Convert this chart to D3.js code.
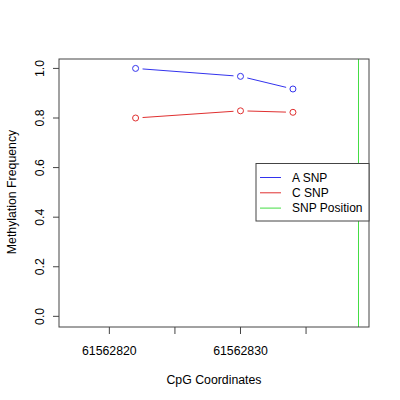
<!DOCTYPE html>
<html><head><meta charset="utf-8">
<script src="https://cdn.jsdelivr.net/npm/d3@7"></script>
<style>body{margin:0;background:#fff}svg{display:block}text{font-family:"Liberation Sans",Arial,sans-serif;fill:#000}</style>
</head><body><div id="chart"></div>
<script>
const coords = [61562822, 61562830, 61562834];
const aSNP = [1.0, 0.968, 0.917];
const cSNP = [0.80, 0.829, 0.823];
const snpPosition = 61562839;
const xTicks = [61562820, 61562825, 61562830, 61562835];
const xTickLabels = ["61562820", "", "61562830", ""];
const yTicks = [0, 0.2, 0.4, 0.6, 0.8, 1.0];
const legendLabels = ["A SNP", "C SNP", "SNP Position"];
const legendColors = ["#3333ee", "#e03030", "#44dd44"];

const W = 400, H = 400;
const L = 59, R = 369, T = 59, B = 327;
const svg = d3.select("#chart").append("svg").attr("width", W).attr("height", H);
const x = d3.scaleLinear().domain([61562816.16, 61562839.8]).range([L, R]);
const y = d3.scaleLinear().domain([-0.043, 1.038]).range([B, T]);

// green SNP line
svg.append("line").attr("x1", x(snpPosition)).attr("x2", x(snpPosition))
  .attr("y1", T).attr("y2", B).attr("stroke", legendColors[2]).attr("stroke-width", 1);

function series(vals, color) {
  const pts = coords.map((c, i) => [x(c), y(vals[i])]);
  const g = svg.append("g");
  for (let i = 0; i < pts.length - 1; i++) {
    const [x1, y1] = pts[i], [x2, y2] = pts[i + 1];
    const dx = x2 - x1, dy = y2 - y1, len = Math.hypot(dx, dy), gap = 7;
    g.append("line")
      .attr("x1", x1 + dx / len * gap).attr("y1", y1 + dy / len * gap)
      .attr("x2", x2 - dx / len * gap).attr("y2", y2 - dy / len * gap)
      .attr("stroke", color).attr("stroke-width", 1);
  }
  g.selectAll("circle").data(pts).enter().append("circle")
    .attr("cx", d => d[0]).attr("cy", d => d[1]).attr("r", 3)
    .attr("fill", "none").attr("stroke", color).attr("stroke-width", 1);
}
series(aSNP, legendColors[0]);
series(cSNP, legendColors[1]);

// frame
svg.append("rect").attr("x", L).attr("y", T).attr("width", R - L).attr("height", B - T)
  .attr("fill", "none").attr("stroke", "#444").attr("stroke-width", 1);

// x axis
const xg = svg.append("g");
xTicks.forEach((t, i) => {
  xg.append("line").attr("x1", x(t)).attr("x2", x(t)).attr("y1", B).attr("y2", B + 7)
    .attr("stroke", "#444");
  if (xTickLabels[i]) xg.append("text").attr("x", x(t)).attr("y", 355)
    .attr("text-anchor", "middle").attr("font-size", 12.3).text(xTickLabels[i]);
});
// y axis
const yg = svg.append("g");
yTicks.forEach(t => {
  yg.append("line").attr("x1", L - 6).attr("x2", L).attr("y1", y(t)).attr("y2", y(t))
    .attr("stroke", "#444");
  yg.append("text").attr("transform", `translate(44,${y(t)}) rotate(-90)`)
    .attr("text-anchor", "middle").attr("font-size", 12.3).text(t.toFixed(1));
});

svg.append("text").attr("x", 214).attr("y", 384).attr("text-anchor", "middle")
  .attr("font-size", 12.3).text("CpG Coordinates");
svg.append("text").attr("transform", "translate(16,192) rotate(-90)")
  .attr("text-anchor", "middle").attr("font-size", 12.3).text("Methylation Frequency");

// legend
const lg = svg.append("g");
lg.append("rect").attr("x", 256).attr("y", 163.5).attr("width", 113).attr("height", 57.5)
  .attr("fill", "#fff").attr("stroke", "#444");
legendLabels.forEach((lab, i) => {
  const yy = 177.5 + i * 15.3;
  lg.append("line").attr("x1", 260).attr("x2", 281).attr("y1", yy).attr("y2", yy)
    .attr("stroke", legendColors[i]);
  lg.append("text").attr("x", 292).attr("y", yy + 4).attr("font-size", 12).text(lab);
});
</script></body></html>
